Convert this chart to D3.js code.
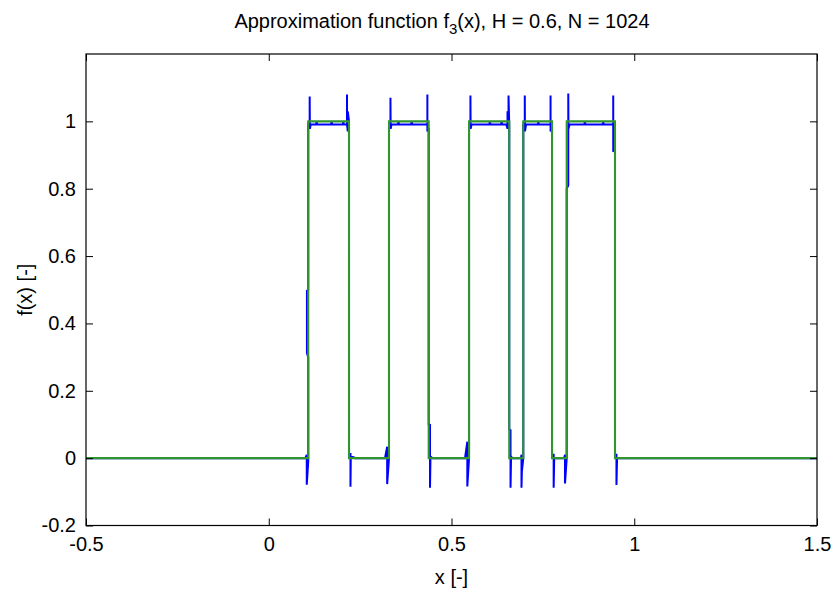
<!DOCTYPE html>
<html>
<head>
<meta charset="utf-8">
<script src="https://cdn.jsdelivr.net/npm/d3@7"></script>
<style>
  html, body { margin: 0; padding: 0; background: #fff; }
  svg text { font-family: "Liberation Sans", Arial, Helvetica, sans-serif; fill: #000; }
</style>
</head>
<body>
<svg id="chart" width="834" height="592"></svg>
<script>
// tick values
const xTicks = [-0.5, 0, 0.5, 1, 1.5];
const yTicks = [-0.2, 0, 0.2, 0.4, 0.6, 0.8, 1];

// exact function f3: jump positions and the level that starts at each of them
const stepEdges  = [-0.5, 0.108, 0.2196, 0.329, 0.4376, 0.548, 0.658, 0.6964, 0.775, 0.8152, 0.9473, 1.5];
const stepLevels = [0, 1, 0, 1, 0, 1, 0, 1, 0, 1, 0, 0];

// approximation (blue)
const approxPts = [
  [-0.5, 0], [0.100, 0],
  // rise ~0.108
  [0.104, 0.01], [0.104, -0.079], [0.108, -0.01], [0.108, 0.30], [0.1045, 0.312], [0.1045, 0.497], [0.108, 0.5],
  [0.108, 0.991], [0.112, 0.991], [0.112, 1.074], [0.1125, 0.978], [0.115, 0.991],
  [0.1295, 0.991], [0.131, 1.0], [0.1325, 0.991], [0.1705, 0.991], [0.172, 1.0], [0.1735, 0.991],
  [0.2025, 0.991], [0.204, 1.0], [0.2055, 0.991],
  // fall ~0.2196
  [0.2135, 0.991], [0.2141, 0.991], [0.2141, 1.08], [0.2141, 0.991], [0.2162, 0.97], [0.2162, 1.03], [0.2196, 1.0],
  [0.2196, 0.0], [0.2236, 0.015], [0.2236, -0.085], [0.2245, 0.005], [0.232, 0.003], [0.236, 0],
  // rise ~0.329
  [0.318, 0], [0.324, 0.034], [0.324, -0.077], [0.329, 0.0], [0.329, 0.991], [0.333, 0.991], [0.333, 1.07],
  [0.3335, 0.978], [0.336, 0.991],
  [0.3535, 0.991], [0.355, 1.0], [0.3565, 0.991], [0.3895, 0.991], [0.391, 1.0], [0.3925, 0.991],
  // fall ~0.4376
  [0.432, 0.991], [0.434, 0.991], [0.434, 1.08], [0.434, 0.97], [0.4376, 0.98], [0.4376, 0.1], [0.4412, 0.099],
  [0.4412, -0.088], [0.4425, 0.005], [0.448, 0],
  // rise ~0.548
  [0.537, 0], [0.5433, 0.049], [0.5433, -0.084], [0.548, 0.0], [0.548, 0.991], [0.5518, 0.991], [0.5518, 1.077],
  [0.5523, 0.978], [0.555, 0.991],
  [0.6035, 0.991], [0.605, 1.0], [0.6065, 0.991], [0.6355, 0.991], [0.637, 1.0], [0.6385, 0.991],
  // fall ~0.658
  [0.650, 0.991], [0.6532, 0.978], [0.6532, 1.03], [0.656, 1.0], [0.656, 1.077], [0.658, 0.991], [0.658, 0.085],
  [0.6615, 0.083], [0.6615, -0.088], [0.663, 0.005], [0.666, 0],
  // rise ~0.6964
  [0.690, 0], [0.6915, 0.01], [0.6915, -0.088], [0.6925, -0.04], [0.6964, 0.0], [0.6964, 0.991], [0.7005, 0.991],
  [0.7005, 1.077], [0.701, 0.97], [0.704, 0.991],
  [0.736, 0.991], [0.7375, 1.0], [0.739, 0.991],
  // fall ~0.775
  [0.768, 0.991], [0.771, 0.991], [0.771, 1.077], [0.771, 0.97], [0.775, 0.98], [0.775, 0.01], [0.7795, 0.01],
  [0.7795, -0.088], [0.781, 0.0], [0.786, 0],
  // rise ~0.8152
  [0.808, 0], [0.8105, 0.01], [0.8105, -0.075], [0.8152, 0.0], [0.8152, 0.80], [0.8195, 0.81], [0.8195, 1.083],
  [0.820, 0.978], [0.823, 0.991],
  [0.8635, 0.991], [0.865, 1.0], [0.8665, 0.991], [0.9135, 0.991], [0.915, 1.0], [0.9165, 0.991],
  // fall ~0.9473
  [0.940, 0.991], [0.9425, 0.991], [0.9425, 1.077], [0.9425, 0.91], [0.9473, 0.92], [0.9473, 0.01], [0.9513, 0.01],
  [0.9513, -0.08], [0.953, 0.0], [1.5, 0]
];

const plotLeft = 86, plotRight = 817, plotTop = 54, plotBottom = 525.5;
const tickLen = 7;

const svg = d3.select('#chart');
const x = d3.scaleLinear().domain([-0.5, 1.5]).range([plotLeft, plotRight]);
const y = d3.scaleLinear().domain([-0.2, 1.2]).range([plotBottom, plotTop]);

svg.append('defs').append('clipPath').attr('id', 'plot-clip')
  .append('rect').attr('x', plotLeft).attr('y', plotTop).attr('width', plotRight - plotLeft).attr('height', plotBottom - plotTop);

const plot = svg.append('g').attr('clip-path', 'url(#plot-clip)');

const line = d3.line().x(d => x(d[0])).y(d => y(d[1]));

plot.append('path').datum(approxPts)
  .attr('d', line)
  .attr('fill', 'none').attr('stroke', '#0000ff').attr('stroke-width', 2);

const stepPts = stepEdges.map((e, i) => [e, stepLevels[i]]);
plot.append('path').datum(stepPts)
  .attr('d', line.curve(d3.curveStepAfter))
  .attr('fill', 'none').attr('stroke', '#2f962f').attr('stroke-width', 2.1);

// axes: ticks inside, mirrored on top/right
const fmt = d => String(d);
function styleAxis(g) {
  g.select('.domain').remove();
  g.selectAll('line').attr('stroke', '#000');
  g.selectAll('text').style('font-size', '20px').attr('fill', '#000');
}
svg.append('g').attr('transform', `translate(0,${plotBottom})`)
  .call(d3.axisBottom(x).tickValues(xTicks).tickFormat(fmt).tickSize(-tickLen).tickPadding(11))
  .call(styleAxis);
svg.append('g').attr('transform', `translate(0,${plotTop})`)
  .call(d3.axisTop(x).tickValues(xTicks).tickFormat('').tickSize(-tickLen))
  .call(styleAxis);
svg.append('g').attr('transform', `translate(${plotLeft},0)`)
  .call(d3.axisLeft(y).tickValues(yTicks).tickFormat(fmt).tickSize(-tickLen).tickPadding(10))
  .call(styleAxis);
svg.append('g').attr('transform', `translate(${plotRight},0)`)
  .call(d3.axisRight(y).tickValues(yTicks).tickFormat('').tickSize(-tickLen))
  .call(styleAxis);

svg.append('rect')
  .attr('x', plotLeft).attr('y', plotTop).attr('width', plotRight - plotLeft).attr('height', plotBottom - plotTop)
  .attr('fill', 'none').attr('stroke', '#000').attr('stroke-width', 1.2);

// title with subscript
const title = svg.append('text').attr('x', 442).attr('y', 28).attr('text-anchor', 'middle').style('font-size', '20px');
title.append('tspan').text('Approximation function f');
title.append('tspan').attr('dy', 6).style('font-size', '15px').text('3');
title.append('tspan').attr('dy', -6).text('(x), H = 0.6, N = 1024');

svg.append('text').attr('x', (plotLeft + plotRight) / 2).attr('y', 584).attr('text-anchor', 'middle')
  .style('font-size', '20px').text('x [-]');
svg.append('text').attr('transform', `translate(32,${(plotTop + plotBottom) / 2}) rotate(-90)`).attr('text-anchor', 'middle')
  .style('font-size', '20px').text('f(x) [-]');
</script>
</body>
</html>
